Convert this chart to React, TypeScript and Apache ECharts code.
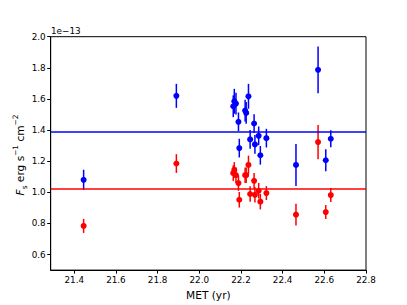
import React, { useEffect, useRef } from "react";
import * as echarts from "echarts";

// Flux values in units of 1e-13 erg s^-1 cm^-2
const metYears = [21.445, 21.89, 22.163, 22.168, 22.176, 22.188, 22.192, 22.22, 22.225, 22.236, 22.244, 22.263, 22.267, 22.285, 22.293, 22.322, 22.464, 22.57, 22.607, 22.631];
const blueFlux = [1.08, 1.62, 1.553, 1.585, 1.57, 1.453, 1.284, 1.525, 1.51, 1.617, 1.34, 1.442, 1.308, 1.363, 1.238, 1.348, 1.176, 1.787, 1.206, 1.344];
const blueErr = [0.065, 0.077, 0.07, 0.08, 0.07, 0.06, 0.06, 0.07, 0.07, 0.08, 0.06, 0.06, 0.06, 0.06, 0.06, 0.06, 0.135, 0.15, 0.07, 0.055];
const redFlux = [0.784, 1.185, 1.123, 1.144, 1.11, 1.059, 0.952, 1.11, 1.11, 1.176, 0.989, 1.074, 0.984, 1.01, 0.94, 0.995, 0.856, 1.323, 0.873, 0.982];
const redErr = [0.045, 0.06, 0.05, 0.05, 0.05, 0.05, 0.05, 0.05, 0.05, 0.06, 0.05, 0.05, 0.05, 0.05, 0.05, 0.045, 0.07, 0.11, 0.045, 0.045];
const blueMean = 1.393;
const redMean = 1.02;
const xTicks = [21.4, 21.6, 21.8, 22.0, 22.2, 22.4, 22.6, 22.8];
const yTicks = [0.6, 0.8, 1.0, 1.2, 1.4, 1.6, 1.8, 2.0];

const FONT = "DejaVu Sans";

function errSeries(name: string, ys: number[], es: number[], color: string, mean: number) {
  return {
    name,
    type: "custom",
    data: metYears.map((x, i) => [x, ys[i], es[i]]),
    renderItem: (params: any, api: any) => {
      const x = api.value(0);
      const y = api.value(1);
      const e = api.value(2);
      const lo = api.coord([x, y - e]);
      const hi = api.coord([x, y + e]);
      const c = api.coord([x, y]);
      return {
        type: "group",
        children: [
          { type: "line", shape: { x1: lo[0], y1: lo[1], x2: hi[0], y2: hi[1] }, style: { stroke: color, lineWidth: 1.5 } },
          { type: "circle", shape: { cx: c[0], cy: c[1], r: 3 }, style: { fill: color } },
        ],
      };
    },
    markLine: {
      silent: true,
      symbol: "none",
      label: { show: false },
      lineStyle: { color, width: 1.5, type: "solid" },
      data: [{ yAxis: mean }],
    },
    z: 3,
  };
}

export default function App() {
  const ref = useRef<HTMLDivElement>(null);
  useEffect(() => {
    const chart = echarts.init(ref.current!, null, { renderer: "svg" });
    chart.setOption({
      animation: false,
      backgroundColor: "#fff",
      grid: { left: 50.7, top: 36.7, right: 41, bottom: 33.7, show: true, borderColor: "#000", borderWidth: 1 },
      xAxis: {
        type: "value",
        min: 21.287,
        max: 22.8,
        splitLine: { show: false },
        axisLine: { lineStyle: { color: "#000", width: 1 } },
        axisTick: { customValues: xTicks, length: 3.5, lineStyle: { color: "#000" } },
        axisLabel: { customValues: xTicks, formatter: (v: number) => v.toFixed(1), color: "#000", fontSize: 8.8, fontFamily: FONT, margin: 5 },
        name: "MET (yr)",
        nameLocation: "middle",
        nameGap: 17,
        nameTextStyle: { color: "#000", fontSize: 10.6, fontFamily: FONT },
      },
      yAxis: {
        type: "value",
        min: 0.5,
        max: 2.0,
        splitLine: { show: false },
        axisLine: { show: true, lineStyle: { color: "#000", width: 1 } },
        axisTick: { show: true, customValues: yTicks, length: 3.5, lineStyle: { color: "#000" } },
        axisLabel: { customValues: yTicks, formatter: (v: number) => v.toFixed(1), color: "#000", fontSize: 8.8, fontFamily: FONT, margin: 5 },
      },
      graphic: [
        {
          type: "text",
          left: 51,
          top: 26,
          style: { text: "1e\u221213", fill: "#000", font: `8.8px '${FONT}'` },
        },
        {
          type: "text",
          x: 20,
          y: 155,
          rotation: Math.PI / 2,
          style: {
            text: "{i|F}{sub|s}{m| erg s}{sup|\u22121}{m| cm}{sup|\u22122}",
            align: "center",
            verticalAlign: "middle",
            rich: {
              i: { fontSize: 10.6, fontFamily: FONT, fontStyle: "italic", fill: "#000", lineHeight: 16, verticalAlign: "middle" },
              m: { fontSize: 10.6, fontFamily: FONT, fill: "#000", lineHeight: 16, verticalAlign: "middle" },
              sub: { fontSize: 7.4, fontFamily: FONT, fill: "#000", lineHeight: 10, verticalAlign: "bottom" },
              sup: { fontSize: 7.4, fontFamily: FONT, fill: "#000", lineHeight: 7, verticalAlign: "top" },
            },
          },
        },
      ],
      series: [
        errSeries("blue", blueFlux, blueErr, "#0000ff", blueMean),
        errSeries("red", redFlux, redErr, "#ff0000", redMean),
      ],
    });
    return () => chart.dispose();
  }, []);
  return <div ref={ref} style={{ position: "fixed", left: 0, top: 0, width: 407, height: 305 }} />;
}
